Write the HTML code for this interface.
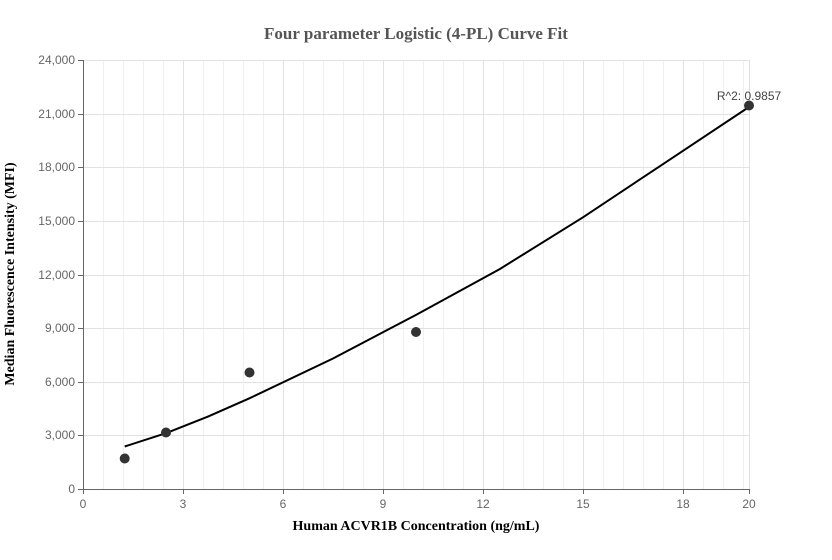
<!DOCTYPE html>
<html><head><meta charset="utf-8"><style>body{margin:0;background:#fff}svg{display:block}</style></head><body>
<svg width="832" height="560" xmlns="http://www.w3.org/2000/svg" font-family="Liberation Sans, sans-serif">
<rect width="832" height="560" fill="#fff"/>
<g stroke="#f0f0f3" stroke-width="1" fill="none">
<path d="M103.5 60V489M123.5 60V489M143.5 60V489M163.5 60V489M203.5 60V489M223.5 60V489M243.5 60V489M263.5 60V489M303.5 60V489M323.5 60V489M343.5 60V489M363.5 60V489M403.5 60V489M423.5 60V489M443.5 60V489M463.5 60V489M503.5 60V489M523.5 60V489M543.5 60V489M563.5 60V489M603.5 60V489M623.5 60V489M643.5 60V489M663.5 60V489M703.5 60V489M723.5 60V489M743.5 60V489"/>
</g>
<g stroke="#e0e2e8" stroke-width="1" fill="none">
<path d="M183.5 60V489M283.5 60V489M383.5 60V489M483.5 60V489M583.5 60V489M683.5 60V489M749.5 60V489"/>
<path d="M83 60.5H750M83 114.5H750M83 167.5H750M83 221.5H750M83 275.5H750M83 328.5H750M83 382.5H750M83 435.5H750"/>
</g>
<g stroke="#666" stroke-width="1" fill="none">
<path d="M83.5 60V489.5H750"/>
<path d="M78 60.5H83M78 114.5H83M78 167.5H83M78 221.5H83M78 275.5H83M78 328.5H83M78 382.5H83M78 435.5H83M78 489.5H83"/>
<path d="M83.5 489V494M183.5 489V494M283.5 489V494M383.5 489V494M483.5 489V494M583.5 489V494M683.5 489V494M749.5 489V494"/>
</g>
<g fill="#666" font-size="12" text-anchor="end">
<text x="75" y="64">24,000</text><text x="75" y="118">21,000</text><text x="75" y="171">18,000</text><text x="75" y="225">15,000</text><text x="75" y="279">12,000</text><text x="75" y="332">9,000</text><text x="75" y="386">6,000</text><text x="75" y="439">3,000</text><text x="75" y="493">0</text>
</g>
<g fill="#666" font-size="12" text-anchor="middle">
<text x="83" y="508">0</text><text x="183" y="508">3</text><text x="283" y="508">6</text><text x="383" y="508">9</text><text x="483" y="508">12</text><text x="583" y="508">15</text><text x="683" y="508">18</text><text x="749" y="508">20</text>
</g>
<polyline fill="none" stroke="#000" stroke-width="2" points="124.7,446.5 166.3,433.1 208,416.6 249.7,398.2 333,358.5 416.3,314.7 499.7,269.1 583,217.3 666.3,161.9 749.7,106.5"/>
<g fill="#333">
<circle cx="124.7" cy="458.5" r="5"/><circle cx="166" cy="432.5" r="5"/><circle cx="249.5" cy="372.5" r="5"/><circle cx="416" cy="332" r="5"/><circle cx="749" cy="105.5" r="5"/>
</g>
<text x="749" y="100" font-size="12" fill="#444" text-anchor="middle">R^2: 0.9857</text>
<text x="416" y="39" font-family="Liberation Serif, serif" font-weight="bold" font-size="17" fill="#555" text-anchor="middle">Four parameter Logistic (4-PL) Curve Fit</text>
<text x="416" y="530" font-family="Liberation Serif, serif" font-weight="bold" font-size="14" fill="#000" text-anchor="middle">Human ACVR1B Concentration (ng/mL)</text>
<text transform="translate(14,274) rotate(-90)" font-family="Liberation Serif, serif" font-weight="bold" font-size="14" fill="#000" text-anchor="middle">Median Fluorescence Intensity (MFI)</text>
</svg>
</body></html>
